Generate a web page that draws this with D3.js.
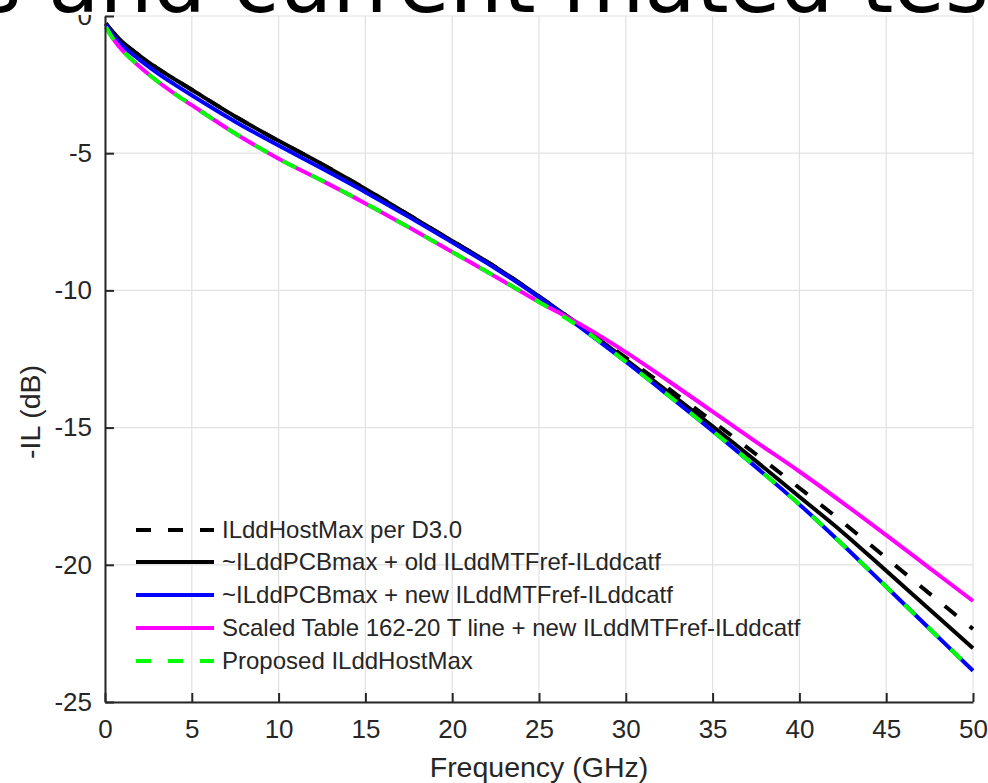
<!DOCTYPE html>
<html>
<head>
<meta charset="utf-8">
<title>ILdd comparison</title>
<script src="https://cdn.jsdelivr.net/npm/d3@7"></script>
<style>
    body { margin: 0; background: #fff; }
    #chart text { font-family: "Liberation Sans", Arial, sans-serif; fill: #262626; }
</style>
</head>
<body>
<div id="chart"></div>
<script>
/* * * * * * * * * * * * * * *
*   -IL vs Frequency chart    *
* * * * * * * * * * * * * * */

// frequency points (GHz)
const freqs = [0.05, 0.5, 1, 2, 3, 4, 5, 7.5, 10, 12.5, 15, 17.5, 20, 22.5, 25, 27.5, 30, 32.5, 35, 37.5, 40, 42.5, 45, 47.5, 50];

// -IL values (dB), one array per curve
const hostMaxD30 = [-0.27, -0.62, -0.95, -1.45, -1.9, -2.3, -2.69, -3.66, -4.55, -5.4, -6.3, -7.25, -8.2, -9.15, -10.22, -11.33, -12.45, -13.6, -14.77, -15.97, -17.2, -18.45, -19.75, -21.05, -22.34];
const pcbOld = [-0.27, -0.62, -0.95, -1.45, -1.9, -2.3, -2.69, -3.66, -4.55, -5.4, -6.3, -7.25, -8.2, -9.15, -10.22, -11.35, -12.52, -13.72, -14.95, -16.22, -17.52, -18.82, -20.22, -21.63, -23.04];
const pcbNew = [-0.3, -0.72, -1.08, -1.6, -2.07, -2.49, -2.89, -3.85, -4.72, -5.56, -6.42, -7.32, -8.25, -9.2, -10.25, -11.4, -12.6, -13.85, -15.12, -16.44, -17.8, -19.27, -20.8, -22.33, -23.86];
const scaledTable = [-0.4, -0.86, -1.25, -1.85, -2.37, -2.83, -3.25, -4.28, -5.2, -6.0, -6.83, -7.7, -8.6, -9.5, -10.42, -11.28, -12.25, -13.32, -14.42, -15.52, -16.6, -17.74, -18.92, -20.12, -21.32];
const proposedHost = [-0.4, -0.86, -1.25, -1.85, -2.37, -2.83, -3.25, -4.28, -5.2, -6.0, -6.83, -7.7, -8.6, -9.5, -10.42, -11.4, -12.6, -13.85, -15.12, -16.44, -17.8, -19.27, -20.8, -22.33, -23.86];

const seriesNames = [
    "ILddHostMax per D3.0",
    "~ILddPCBmax + old ILddMTFref-ILddcatf",
    "~ILddPCBmax + new ILddMTFref-ILddcatf",
    "Scaled Table 162-20 T line + new ILddMTFref-ILddcatf",
    "Proposed ILddHostMax"
];

const xTicks = [0, 5, 10, 15, 20, 25, 30, 35, 40, 45, 50];
const yTicks = [0, -5, -10, -15, -20, -25];

const titleText = "ILdd host limits and current mated test fixture";

// line styles, in drawing order
const styles = [
    {color: "#000000", dash: "15,17"},
    {color: "#000000", dash: null},
    {color: "#0000ff", dash: null},
    {color: "#ff00ff", dash: null},
    {color: "#00ff00", dash: "15,17"}
];

let allSeries = [hostMaxD30, pcbOld, pcbNew, scaledTable, proposedHost].map((vals, i) => ({
    name: seriesNames[i],
    style: styles[i],
    values: freqs.map((f, j) => ({f: f, il: vals[j]}))
}));

let width = 988, height = 783;
let margin = {top: 16, right: 15, bottom: 81, left: 105};

let svg = d3.select("#chart").append("svg")
    .attr("width", width)
    .attr("height", height);

let x = d3.scaleLinear().domain([0, 50]).range([margin.left, width - margin.right]);
let y = d3.scaleLinear().domain([-25, 0]).range([height - margin.bottom, margin.top]);

// grid
let grid = svg.append("g").attr("class", "grid");
grid.selectAll(".vgrid").data(xTicks).enter().append("line")
    .attr("x1", d => x(d)).attr("x2", d => x(d))
    .attr("y1", y(0)).attr("y2", y(-25))
    .attr("stroke", "#e1e1e1").attr("stroke-width", 1.2);
grid.selectAll(".hgrid").data(yTicks).enter().append("line")
    .attr("x1", x(0)).attr("x2", x(50))
    .attr("y1", d => y(d)).attr("y2", d => y(d))
    .attr("stroke", "#e1e1e1").attr("stroke-width", 1.2);

// curves
let line = d3.line()
    .x(d => x(d.f))
    .y(d => y(d.il))
    .curve(d3.curveCatmullRom.alpha(0.5));

svg.append("g").attr("class", "curves")
    .selectAll("path").data(allSeries).enter().append("path")
    .attr("d", d => line(d.values))
    .attr("fill", "none")
    .attr("stroke", d => d.style.color)
    .attr("stroke-width", 4)
    .attr("stroke-dasharray", d => d.style.dash);

// axes, ticks point inward; plain hyphen for negatives
let fmt = d => String(d);
let xAxis = svg.append("g")
    .attr("transform", `translate(0, ${y(-25)})`)
    .call(d3.axisBottom(x).tickValues(xTicks).tickFormat(fmt).tickSizeInner(-9).tickSizeOuter(0).tickPadding(18));
let yAxis = svg.append("g")
    .attr("transform", `translate(${x(0)}, 0)`)
    .call(d3.axisLeft(y).tickValues(yTicks).tickFormat(fmt).tickSizeInner(-9).tickSizeOuter(0).tickPadding(13));

[xAxis, yAxis].forEach(ax => {
    ax.select(".domain").attr("stroke", "#262626").attr("stroke-width", 2);
    ax.selectAll(".tick line").attr("stroke", "#262626").attr("stroke-width", 2);
    ax.selectAll(".tick text").style("font-size", "26px").attr("fill", "#262626");
});

// axis labels
svg.append("text")
    .attr("x", x(25))
    .attr("y", 777)
    .attr("text-anchor", "middle")
    .style("font-size", "28.5px")
    .text("Frequency (GHz)");

svg.append("text")
    .attr("transform", `translate(40, 412) rotate(-90)`)
    .attr("text-anchor", "middle")
    .style("font-size", "28.5px")
    .text("-IL (dB)");

// legend
let legend = svg.append("g").attr("class", "legend");
let rowY = [530, 562, 595, 628, 661];
allSeries.forEach((s, i) => {
    legend.append("line")
        .attr("x1", 136).attr("x2", 214)
        .attr("y1", rowY[i]).attr("y2", rowY[i])
        .attr("stroke", s.style.color)
        .attr("stroke-width", 4)
        .attr("stroke-dasharray", s.style.dash);
    legend.append("text")
        .attr("x", 222)
        .attr("y", rowY[i])
        .attr("dy", "0.35em")
        .style("font-size", "24px")
        .attr("fill", "#000")
        .text(s.name);
});

// title sits above the axes and is mostly cut off by the top of the picture
svg.append("rect")
    .attr("x", 0).attr("y", 0)
    .attr("width", width).attr("height", 15)
    .attr("fill", "#fff");

let title = svg.append("text")
    .attr("y", 12)
    .style("font-family", "'DejaVu Sans', sans-serif")
    .style("font-size", "84px")
    .style("fill", "#000")
    .text(titleText);

// shift so that the word "and" starts at about x = 48
let idx = titleText.indexOf(" and") + 1;
let offset = title.node().getSubStringLength(0, idx);
title.attr("x", 48 - offset);
</script>
</body>
</html>
